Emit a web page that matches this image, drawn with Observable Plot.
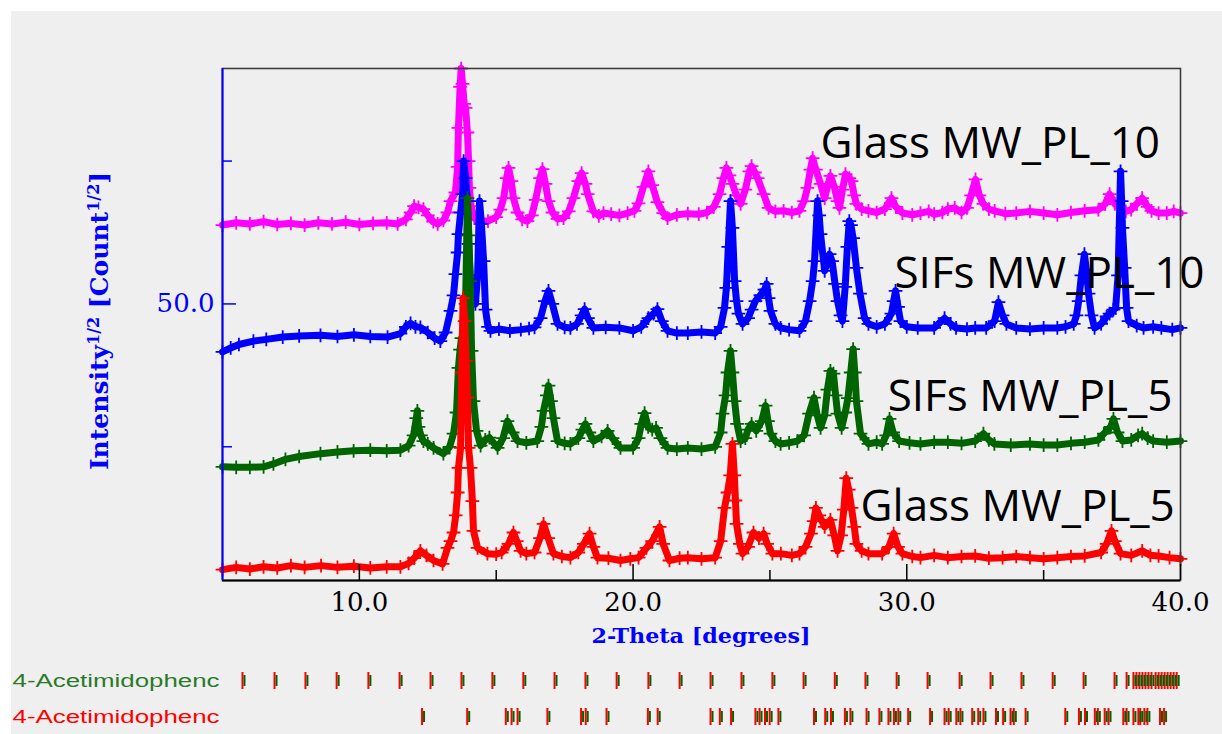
<!DOCTYPE html>
<html><head><meta charset="utf-8">
<script src="https://cdn.jsdelivr.net/npm/d3@7"></script>
<script src="https://cdn.jsdelivr.net/npm/@observablehq/plot@0.6"></script>
<style>
html,body{margin:0;padding:0;background:#ffffff;}
#wrap{position:absolute;left:11px;top:11px;width:1211px;height:723px;background:#efefef;overflow:hidden;}
#wrap svg{display:block;}
</style></head><body><div id="wrap"></div>
<script>
// ---- data: [2-theta (deg), sqrt(intensity) incl. stacking offset] ----
const glass10 = [[5.0,63.8],[5.5,64.2],[6.0,64.0],[6.5,64.4],[7.0,63.9],[7.5,64.1],[8.0,63.8],[8.5,64.2],[9.0,64.0],[9.5,64.3],[10.0,63.9],[10.5,64.1],[11.0,64.2],[11.4,64.0],[11.7,64.8],[11.87,66.0],[12.0,67.1],[12.16,66.9],[12.34,66.6],[12.5,65.5],[12.7,64.4],[12.86,64.0],[13.07,64.6],[13.22,66.0],[13.33,68.0],[13.51,69.5],[13.59,74.0],[13.62,80.8],[13.68,88.0],[13.72,91.2],[13.77,88.5],[13.83,85.0],[13.88,84.3],[13.95,80.0],[13.99,75.0],[14.02,70.3],[14.08,67.1],[14.2,65.0],[14.43,64.5],[14.7,64.5],[15.0,65.2],[15.15,66.5],[15.27,68.5],[15.38,72.0],[15.45,73.8],[15.55,71.5],[15.63,68.5],[15.78,66.0],[15.95,64.8],[16.14,64.5],[16.3,65.5],[16.44,68.2],[16.6,72.0],[16.69,73.6],[16.8,71.0],[16.91,68.0],[17.06,66.0],[17.24,64.9],[17.46,65.0],[17.65,66.2],[17.82,68.5],[18.0,71.5],[18.12,72.9],[18.26,71.0],[18.34,69.2],[18.55,66.2],[18.75,65.4],[18.92,65.9],[19.2,65.7],[19.5,65.5],[19.8,65.9],[20.05,66.3],[20.2,67.6],[20.38,70.5],[20.56,73.2],[20.7,70.8],[20.89,67.8],[21.1,65.9],[21.26,65.0],[21.6,65.6],[22.0,65.8],[22.4,65.7],[22.7,66.0],[22.95,67.0],[23.16,69.2],[23.3,72.0],[23.41,73.8],[23.52,72.5],[23.63,71.0],[23.78,69.0],[23.93,67.5],[24.1,70.0],[24.25,73.2],[24.33,74.1],[24.45,73.0],[24.55,72.0],[24.77,69.2],[24.95,66.8],[25.2,66.2],[25.5,66.3],[25.8,66.0],[26.08,66.3],[26.25,68.0],[26.37,70.3],[26.48,73.5],[26.56,75.5],[26.68,73.5],[26.85,71.0],[27.0,68.5],[27.1,70.5],[27.21,72.4],[27.35,70.5],[27.47,68.0],[27.54,66.8],[27.65,70.0],[27.76,72.7],[27.9,72.0],[27.98,71.5],[28.08,69.0],[28.16,67.5],[28.35,66.6],[28.6,66.3],[28.9,66.0],[29.2,66.6],[29.44,68.5],[29.6,67.0],[29.84,65.9],[30.2,65.6],[30.5,65.9],[30.8,66.2],[31.0,65.7],[31.3,66.0],[31.5,66.6],[31.75,66.8],[32.0,66.0],[32.2,66.8],[32.35,69.0],[32.51,71.8],[32.65,69.0],[32.8,67.5],[33.0,66.6],[33.21,66.3],[33.6,65.8],[34.0,65.9],[34.5,66.2],[35.0,65.9],[35.5,65.6],[36.0,66.0],[36.5,66.3],[37.0,66.5],[37.25,67.5],[37.41,69.2],[37.6,67.5],[37.81,66.8],[38.0,66.2],[38.2,66.5],[38.4,67.5],[38.6,68.5],[38.8,67.0],[38.94,66.3],[39.2,65.9],[39.5,65.9],[39.75,66.2],[40.0,65.9]];

const sifs10 = [[5.0,41.6],[5.3,42.3],[5.6,42.9],[6.13,43.5],[6.6,43.8],[7.2,44.2],[7.8,44.4],[8.58,44.5],[9.2,44.3],[9.8,44.6],[10.4,44.3],[11.03,44.2],[11.5,44.8],[11.7,46.0],[11.87,46.6],[12.05,46.0],[12.23,45.9],[12.5,45.0],[12.75,44.0],[12.96,43.5],[13.15,45.0],[13.33,48.8],[13.44,51.5],[13.51,55.2],[13.59,59.0],[13.62,62.2],[13.7,66.0],[13.77,69.2],[13.81,75.0],[13.88,72.0],[13.95,68.0],[13.99,60.5],[14.06,54.0],[14.13,50.5],[14.24,50.0],[14.32,55.0],[14.39,68.0],[14.46,64.0],[14.54,57.5],[14.61,49.0],[14.7,46.0],[14.79,45.3],[15.1,45.6],[15.5,45.3],[15.9,45.5],[16.2,45.7],[16.4,45.9],[16.62,47.5],[16.78,50.5],[16.91,52.3],[17.05,50.0],[17.24,46.5],[17.5,45.9],[17.71,45.8],[17.95,46.5],[18.12,48.0],[18.23,49.1],[18.35,47.5],[18.55,45.8],[19.0,45.9],[19.5,45.8],[20.0,45.3],[20.3,46.0],[20.56,47.5],[20.75,48.3],[20.89,49.1],[21.05,47.0],[21.26,45.3],[21.6,44.9],[22.0,44.9],[22.5,45.1],[23.0,44.9],[23.2,46.0],[23.34,49.3],[23.41,52.8],[23.48,60.0],[23.56,68.0],[23.63,63.3],[23.71,54.0],[23.78,50.5],[23.85,48.3],[24.0,46.5],[24.2,47.5],[24.33,49.0],[24.47,50.5],[24.65,51.5],[24.8,52.5],[24.88,53.5],[24.95,51.0],[25.02,48.8],[25.2,46.5],[25.39,45.8],[25.7,45.5],[26.08,45.3],[26.3,47.0],[26.45,50.5],[26.56,54.0],[26.63,57.5],[26.74,68.0],[26.8,65.5],[26.85,62.2],[27.0,55.8],[27.1,57.5],[27.18,58.7],[27.27,57.5],[27.38,53.5],[27.47,50.5],[27.58,48.0],[27.65,47.0],[27.75,53.0],[27.83,60.0],[27.9,64.5],[27.96,63.8],[28.04,61.5],[28.16,56.3],[28.29,51.8],[28.46,47.5],[28.6,46.5],[28.9,46.0],[29.2,46.5],[29.44,48.3],[29.52,50.5],[29.59,52.3],[29.68,49.5],[29.77,47.0],[30.0,46.0],[30.4,45.8],[31.0,45.8],[31.38,47.5],[31.6,46.5],[31.8,45.8],[32.2,45.6],[32.5,45.8],[32.9,45.8],[33.21,47.0],[33.35,50.3],[33.5,48.0],[33.64,46.5],[34.0,45.8],[34.5,45.6],[35.0,45.8],[35.5,45.8],[35.8,46.0],[36.1,46.5],[36.2,48.0],[36.28,50.5],[36.38,55.0],[36.49,58.7],[36.56,56.0],[36.64,51.8],[36.75,48.0],[36.86,45.8],[37.1,46.5],[37.3,47.8],[37.41,48.3],[37.55,49.0],[37.63,49.3],[37.72,55.0],[37.81,73.2],[37.85,68.0],[37.88,63.3],[37.96,56.3],[38.03,49.3],[38.1,47.0],[38.4,46.2],[38.65,45.8],[39.0,46.0],[39.3,45.8],[39.7,45.5],[40.0,45.8]];

const sifs5 = [[5.0,21.5],[5.5,21.4],[6.0,21.4],[6.5,21.5],[6.86,22.0],[7.3,22.8],[7.8,23.3],[8.58,23.8],[9.2,24.1],[9.79,24.3],[10.4,24.4],[11.0,24.3],[11.5,24.4],[11.8,25.2],[11.98,27.0],[12.08,30.0],[12.12,31.3],[12.16,28.5],[12.25,27.0],[12.34,26.0],[12.5,25.5],[12.71,24.8],[13.07,23.8],[13.3,25.0],[13.44,27.3],[13.55,31.0],[13.62,38.8],[13.68,42.0],[13.73,44.0],[13.8,42.0],[13.88,50.0],[13.95,68.5],[14.0,62.0],[14.05,54.0],[14.1,41.8],[14.17,33.0],[14.28,27.8],[14.43,25.2],[14.6,26.2],[14.75,26.6],[15.05,24.8],[15.25,26.5],[15.41,29.5],[15.6,27.5],[15.78,26.0],[16.1,25.7],[16.5,26.0],[16.65,28.5],[16.73,31.3],[16.85,34.0],[16.91,35.7],[17.0,33.0],[17.09,30.0],[17.24,26.0],[17.5,25.6],[17.71,25.5],[18.0,26.5],[18.15,28.0],[18.26,29.0],[18.4,27.5],[18.55,26.0],[18.85,26.8],[19.07,27.8],[19.25,26.5],[19.54,24.8],[20.0,24.8],[20.2,26.5],[20.3,29.0],[20.42,30.9],[20.55,28.5],[20.7,28.0],[20.84,28.3],[21.0,26.5],[21.26,24.8],[21.6,24.6],[22.0,24.8],[22.5,24.6],[23.0,25.0],[23.2,27.5],[23.27,30.8],[23.38,34.0],[23.45,38.0],[23.56,41.8],[23.63,38.0],[23.71,33.0],[23.8,29.0],[23.93,26.0],[24.1,26.5],[24.2,28.0],[24.33,29.0],[24.5,27.8],[24.7,29.5],[24.84,32.2],[24.93,29.5],[25.02,27.3],[25.2,26.0],[25.39,25.5],[25.7,25.7],[26.0,26.0],[26.25,27.0],[26.43,30.8],[26.61,33.6],[26.73,30.5],[26.85,28.3],[27.0,30.5],[27.1,35.0],[27.21,38.3],[27.32,37.8],[27.4,34.0],[27.47,30.8],[27.62,28.3],[27.75,31.0],[27.85,33.5],[27.95,38.0],[28.04,42.1],[28.1,38.0],[28.16,33.0],[28.31,27.3],[28.6,25.5],[28.9,25.8],[29.1,25.5],[29.25,27.0],[29.37,29.9],[29.5,27.5],[29.72,26.0],[30.1,25.7],[30.5,25.5],[31.0,25.8],[31.5,25.8],[32.0,25.6],[32.5,26.0],[32.8,27.3],[33.0,26.2],[33.2,25.5],[33.8,25.3],[34.5,25.5],[35.0,25.3],[35.5,25.3],[36.0,25.6],[36.5,25.8],[37.0,26.2],[37.2,27.3],[37.45,28.5],[37.55,29.9],[37.7,27.5],[37.88,26.0],[38.2,26.2],[38.45,27.0],[38.6,27.3],[38.8,26.5],[39.0,26.0],[39.5,25.8],[40.0,26.0]];

const glass5 = [[5.0,3.5],[5.5,3.9],[6.0,3.6],[6.5,4.0],[7.0,3.8],[7.5,4.2],[8.0,3.9],[8.6,4.2],[9.2,3.9],[9.8,4.1],[10.4,3.8],[11.0,4.0],[11.5,4.0],[11.8,4.6],[12.0,5.5],[12.23,6.8],[12.45,6.0],[12.71,5.1],[13.04,4.5],[13.22,7.3],[13.33,8.5],[13.44,10.0],[13.52,13.0],[13.59,17.0],[13.62,21.3],[13.7,24.8],[13.74,38.0],[13.79,51.0],[13.85,47.0],[13.9,40.0],[13.95,33.6],[13.99,24.8],[14.06,21.3],[14.13,15.5],[14.17,10.3],[14.32,7.3],[14.68,6.3],[15.0,6.2],[15.2,6.5],[15.45,8.0],[15.63,10.0],[15.75,8.5],[15.89,6.8],[16.1,6.3],[16.4,6.5],[16.6,9.0],[16.73,11.5],[16.9,9.0],[17.09,6.3],[17.4,5.8],[17.71,5.6],[18.0,6.5],[18.2,8.0],[18.41,9.8],[18.55,7.5],[18.7,5.6],[19.1,5.5],[19.54,5.1],[19.9,5.4],[20.2,5.6],[20.49,7.3],[20.7,8.5],[20.97,11.0],[21.1,8.0],[21.33,5.1],[21.7,5.5],[22.0,5.6],[22.5,5.4],[23.0,5.6],[23.2,8.5],[23.34,14.3],[23.45,17.0],[23.55,20.0],[23.63,25.5],[23.7,20.0],[23.74,15.6],[23.78,11.5],[23.9,8.0],[24.0,6.3],[24.2,7.5],[24.4,10.0],[24.6,9.0],[24.77,9.8],[24.9,8.0],[25.09,6.3],[25.4,6.3],[25.8,6.0],[26.08,6.3],[26.3,7.5],[26.5,9.8],[26.6,12.0],[26.68,14.3],[26.8,13.0],[27.0,11.0],[27.21,12.2],[27.35,9.5],[27.47,6.8],[27.6,9.5],[27.7,14.0],[27.79,19.5],[27.88,17.5],[27.98,14.3],[28.08,11.0],[28.16,8.0],[28.35,6.8],[28.6,6.3],[29.1,6.3],[29.35,7.5],[29.52,9.8],[29.68,7.5],[29.84,6.3],[30.2,5.8],[30.5,5.6],[31.0,6.0],[31.5,5.6],[32.0,5.8],[32.5,5.9],[33.0,5.5],[33.5,5.6],[34.0,5.8],[34.5,5.6],[35.0,5.4],[35.5,5.6],[36.0,5.8],[36.5,5.9],[37.1,6.5],[37.3,8.0],[37.48,10.3],[37.6,8.5],[37.81,6.3],[38.2,6.0],[38.6,6.8],[38.9,6.0],[39.2,5.9],[39.6,5.6],[40.0,5.4]];

const seriesNames = ["Glass MW_PL_10", "SIFs MW_PL_10", "SIFs MW_PL_5", "Glass MW_PL_5"];
const seriesColors = ["#ff00ff", "#0000ff", "#006400", "#ff0000"];
const seriesData = [glass10, sifs10, sifs5, glass5];

// label anchor points (data coordinates)
const labelX = [26.85, 29.55, 29.30, 28.31];
const labelY = [77.97, 55.3, 33.74, 14.51];

// axes
const xDomain = [5, 40];
const yDomain = [1.6, 91.2];
const xMinorTicks = [15, 25, 35];
const xMajorTicks = [10, 20, 30, 40];
const yMinorTicks = [25, 75];
const yMajorTicks = [50];

// reflection markers (2-theta), two phases
const phaseNames = ["4-Acetimidophenc", "4-Acetimidophenc"];
const phaseColors = ["#2a7a2a", "#ff0000"];
const phase1Ticks = [5.73,6.90,8.03,9.17,10.33,11.47,12.60,13.73,14.86,15.99,17.13,18.26,19.40,20.56,21.70,22.83,23.96,25.09,26.23,27.37,28.49,29.63,30.76,31.93,33.06,34.19,35.33,36.46,37.59,38.03,38.28,38.39,38.50,38.61,38.72,38.83,38.94,39.09,39.20,39.31,39.42,39.53,39.64,39.75,39.86];
const phase2Ticks = [12.29,13.94,15.35,15.56,15.78,16.87,18.10,18.27,19.03,20.54,20.90,22.83,23.17,23.58,24.47,24.62,24.82,24.99,25.31,26.61,27.02,27.23,27.74,27.94,28.53,29.00,29.33,29.53,29.69,30.05,30.85,31.38,31.53,31.81,31.96,32.39,32.61,32.80,33.26,33.52,33.79,33.91,34.34,35.79,36.29,36.51,36.87,36.98,37.23,37.37,37.91,38.03,38.28,38.46,38.53,38.68,38.79,39.25,39.40];

// ---- build ----
const W = 1211, ML = 211, MR = 42, MT = 57, MB = 81, H = 650;
const frameW = W - ML - MR, frameH = H - MT - MB;

const seriesMarks = seriesData.flatMap((data, i) => {
  const rows = data.map(([x, y]) => ({x, y}));
  return [
    Plot.line(rows, {x: "x", y: "y", stroke: seriesColors[i], strokeWidth: 7, strokeLinejoin: "round", strokeLinecap: "round"}),
    Plot.dot(rows, {x: "x", y: "y", stroke: seriesColors[i], symbol: "plus", r: 4.5, strokeWidth: 1.8})
  ];
});

const labels = seriesNames.map((name, i) => ({name, x: labelX[i], y: labelY[i]}));

const main = Plot.plot({
  width: W, height: H, marginLeft: ML, marginRight: MR, marginTop: MT, marginBottom: MB,
  style: {background: "transparent", fontFamily: "'DejaVu Serif', serif", overflow: "visible"},
  x: {domain: xDomain},
  y: {domain: yDomain},
  marks: [
    ...seriesMarks,
    Plot.frame({stroke: "#3c3c3c", strokeWidth: 1.6}),
    Plot.ruleY([yDomain[0]], {stroke: "#000", strokeWidth: 2}),
    Plot.ruleX([xDomain[0]], {stroke: "#0000ff", strokeWidth: 2}),
    Plot.tickX(xMinorTicks, {x: d => d, insetTop: frameH - 10, stroke: "#000", strokeWidth: 1.5}),
    Plot.tickX(xMajorTicks, {x: d => d, insetTop: frameH - 16, stroke: "#000", strokeWidth: 1.5}),
    Plot.tickY(yMinorTicks, {y: d => d, insetRight: frameW - 10, stroke: "#0000ff", strokeWidth: 1.5}),
    Plot.tickY(yMajorTicks, {y: d => d, insetRight: frameW - 14, stroke: "#0000ff", strokeWidth: 1.5}),
    Plot.axisX({ticks: xMajorTicks, tickSize: 0, tickPadding: 12, tickFormat: d => d.toFixed(1), label: null, fontSize: 26, fill: "#000"}),
    Plot.axisY({ticks: yMajorTicks, tickSize: 0, tickPadding: 8, tickFormat: d => d.toFixed(1), label: null, fontSize: 26, fill: "#0000ff"}),
    Plot.text(labels, {x: "x", y: "y", text: "name", textAnchor: "start", lineAnchor: "middle", fontSize: 44, fontFamily: "'Open Sans', sans-serif", fill: "#000"})
  ]
});

const svg = d3.select(main);
svg.append("text")
  .attr("x", ML + frameW / 2).attr("y", 632)
  .attr("text-anchor", "middle").attr("fill", "#0000ff")
  .attr("font-family", "'DejaVu Serif', serif").attr("font-size", 21).attr("font-weight", "bold")
  .attr("textLength", 219).attr("lengthAdjust", "spacingAndGlyphs")
  .text("2-Theta [degrees]");
const yt = svg.append("text")
  .attr("transform", "translate(97,310) rotate(-90)")
  .attr("text-anchor", "middle").attr("fill", "#0000ff")
  .attr("font-family", "'DejaVu Serif', serif").attr("font-size", 25).attr("font-weight", "bold");
yt.append("tspan").text("Intensity");
yt.append("tspan").attr("baseline-shift", "super").attr("font-size", 16).text("1/2");
yt.append("tspan").text(" [Count");
yt.append("tspan").attr("baseline-shift", "super").attr("font-size", 16).text("1/2");
yt.append("tspan").text("]");

document.getElementById("wrap").appendChild(main);

// reflection tick rows
const tickRows = [
  ...phase1Ticks.map(x => ({x, row: "p1"})),
  ...phase2Ticks.map(x => ({x, row: "p2"}))
];
const rowLabels = [{row: "p1", text: phaseNames[0], color: phaseColors[0]}, {row: "p2", text: phaseNames[1], color: phaseColors[1]}];

const ticksPlot = Plot.plot({
  width: W, height: 73, marginLeft: ML, marginRight: MR, marginTop: 0, marginBottom: 0,
  style: {background: "transparent", overflow: "visible"},
  x: {domain: xDomain, axis: null},
  y: {type: "band", domain: ["p1", "p2"], range: [11, 64], paddingInner: 0.53, paddingOuter: 0, axis: null},
  marks: [
    Plot.tickX(tickRows, {x: "x", y: "row", stroke: "#ff0000", strokeWidth: 2}),
    Plot.tickX(tickRows, {x: "x", y: "row", stroke: "#006400", strokeWidth: 2, dx: 2, insetTop: 3, insetBottom: 3}),
    Plot.text(rowLabels, {y: "row", text: "text", fill: "color", frameAnchor: "left", dx: -210, textAnchor: "start", fontSize: 18, fontFamily: "'Liberation Sans', Arial, sans-serif"})
  ]
});
ticksPlot.querySelectorAll('g[aria-label="text"] text').forEach(t => {
  t.setAttribute("textLength", 207);
  t.setAttribute("lengthAdjust", "spacingAndGlyphs");
});
document.getElementById("wrap").appendChild(ticksPlot);
</script>
</body></html>
